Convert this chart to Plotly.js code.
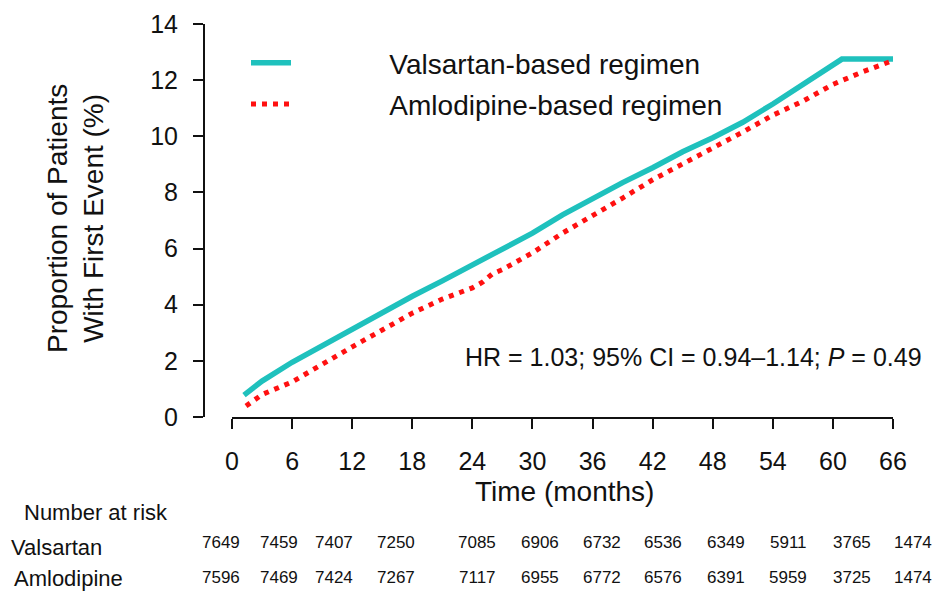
<!DOCTYPE html>
<html>
<head>
<meta charset="utf-8">
<script src="https://cdn.plot.ly/plotly-3.0.1.min.js"></script>
<style>html,body{margin:0;padding:0;background:#fff;}#chart{width:938px;height:599px;}</style>
</head>
<body>
<div id="chart"></div>
<script>
// ---- data ----
const seriesNames = ["Valsartan-based regimen", "Amlodipine-based regimen"];
const valsartanMonths = [1.2, 3, 6, 9, 12, 15, 18, 21, 24, 27, 30, 33, 36, 39, 42, 45, 48, 51, 54, 57, 60.9, 66];
const valsartanPct   = [0.78, 1.28, 1.95, 2.55, 3.15, 3.75, 4.3, 4.85, 5.4, 5.95, 6.55, 7.2, 7.8, 8.35, 8.88, 9.45, 9.95, 10.5, 11.15, 11.85, 12.75, 12.75];
const amlodipineMonths = [1.4, 3, 6, 9, 12, 15, 18, 21, 24, 25, 26, 27, 30, 33, 36, 39, 42, 45, 48, 51, 54, 57, 60, 63, 66];
const amlodipinePct    = [0.39, 0.8, 1.25, 1.9, 2.5, 3.1, 3.7, 4.2, 4.6, 4.8, 5.1, 5.25, 5.85, 6.55, 7.15, 7.8, 8.45, 9.0, 9.6, 10.15, 10.75, 11.25, 11.85, 12.3, 12.7];
const xTicks = [0, 6, 12, 18, 24, 30, 36, 42, 48, 54, 60, 66];
const yTicks = [0, 2, 4, 6, 8, 10, 12, 14];
const riskRowLabels = ["Valsartan", "Amlodipine"];
const riskValsartan  = [7649, 7459, 7407, 7250, 7085, 6906, 6732, 6536, 6349, 5911, 3765, 1474];
const riskAmlodipine = [7596, 7469, 7424, 7267, 7117, 6955, 6772, 6576, 6391, 5959, 3725, 1474];
const statsText = "HR = 1.03; 95% CI = 0.94\u20131.14; <i>P</i> = 0.49";

// ---- layout geometry (pixels) ----
const W = 938, H = 599;
const M = {l: 204, r: 45, t: 24, b: 182};
const PW = W - M.l - M.r, PH = H - M.t - M.b;
const px = p => (p - M.l) / PW;
const py = p => (H - M.b - p) / PH;
const riskColumnPx = [221, 279, 334, 396, 477, 540, 602, 663, 726, 788, 852, 913];
const legendPad = "\u00A0".repeat(12);

const FONT = "Liberation Sans, Arial, sans-serif";
const CYAN = "#1fc1bd", RED = "#ff1010";

const traces = [
  {x: valsartanMonths, y: valsartanPct, name: legendPad + seriesNames[0], type: "scatter", mode: "lines",
   line: {color: CYAN, width: 5.5}, legendgroup: "a"},
  {x: amlodipineMonths, y: amlodipinePct, name: legendPad + seriesNames[1], type: "scatter", mode: "lines",
   line: {color: RED, width: 5, dash: "5px,6px"}, legendgroup: "b"}
];

const ann = [];
ann.push({xref: "paper", yref: "paper", x: px(75), y: py(219), text: "Proportion of Patients<br>With First Event (%)",
  textangle: -90, showarrow: false, font: {family: FONT, size: 28, color: "#111"}, xanchor: "center", yanchor: "middle"});
ann.push({xref: "paper", yref: "paper", x: px(564), y: py(491), text: "Time (months)",
  showarrow: false, font: {family: FONT, size: 28, color: "#111"}, xanchor: "center", yanchor: "middle"});
ann.push({xref: "paper", yref: "paper", x: px(924), y: py(357), text: statsText,
  showarrow: false, font: {family: FONT, size: 25, color: "#111"}, xanchor: "right", yanchor: "middle"});
ann.push({xref: "paper", yref: "paper", x: px(22), y: py(512), text: "Number at risk",
  showarrow: false, font: {family: FONT, size: 22, color: "#111"}, xanchor: "left", yanchor: "middle"});
ann.push({xref: "paper", yref: "paper", x: px(9), y: py(547), text: riskRowLabels[0],
  showarrow: false, font: {family: FONT, size: 22, color: "#111"}, xanchor: "left", yanchor: "middle"});
ann.push({xref: "paper", yref: "paper", x: px(12), y: py(578), text: riskRowLabels[1],
  showarrow: false, font: {family: FONT, size: 22, color: "#111"}, xanchor: "left", yanchor: "middle"});
riskValsartan.forEach((v, i) => ann.push({xref: "paper", yref: "paper", x: px(riskColumnPx[i]), y: py(542),
  text: String(v), showarrow: false, font: {family: FONT, size: 17, color: "#111"}, xanchor: "center", yanchor: "middle"}));
riskAmlodipine.forEach((v, i) => ann.push({xref: "paper", yref: "paper", x: px(riskColumnPx[i]), y: py(577),
  text: String(v), showarrow: false, font: {family: FONT, size: 17, color: "#111"}, xanchor: "center", yanchor: "middle"}));

const layout = {
  width: W, height: H,
  margin: M,
  paper_bgcolor: "#fff", plot_bgcolor: "#fff",
  font: {family: FONT, color: "#111"},
  showlegend: true,
  legend: {x: px(246), y: py(38), xanchor: "left", yanchor: "top", bgcolor: "rgba(0,0,0,0)",
    font: {family: FONT, size: 28, color: "#111"}, itemwidth: 40, traceorder: "grouped", tracegroupgap: 2},
  xaxis: {range: [0, 66], domain: [px(232), 1], tickvals: xTicks, ticktext: xTicks.map(String),
    showgrid: false, zeroline: false, showline: true, linecolor: "#111", linewidth: 2,
    ticks: "outside", ticklen: 10, tickwidth: 2, tickcolor: "#111",
    tickfont: {family: FONT, size: 25, color: "#111"}, ticklabelstandoff: 11, fixedrange: true},
  yaxis: {range: [0, 14], anchor: "free", position: 0, tickvals: yTicks, ticktext: yTicks.map(String),
    showgrid: false, zeroline: false, showline: true, linecolor: "#111", linewidth: 2,
    ticks: "outside", ticklen: 10, tickwidth: 2, tickcolor: "#111",
    tickfont: {family: FONT, size: 25, color: "#111"}, ticklabelstandoff: 10, fixedrange: true},
  annotations: ann
};

Plotly.newPlot("chart", traces, layout, {displayModeBar: false, staticPlot: true});
</script>
</body>
</html>
